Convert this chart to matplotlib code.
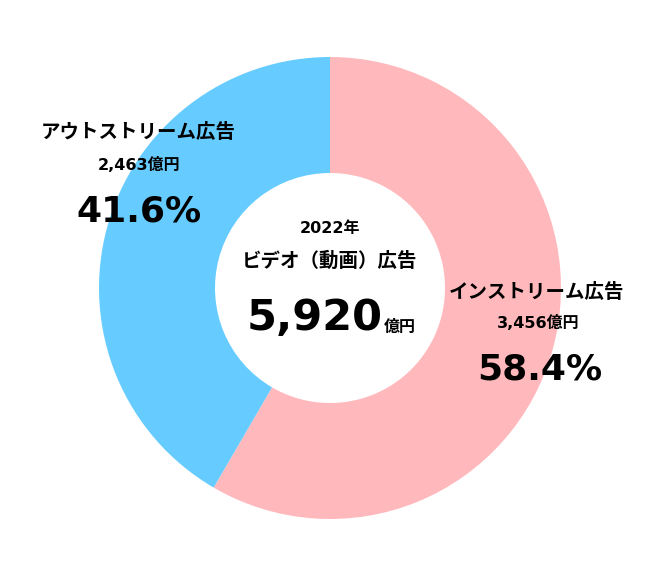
import matplotlib.pyplot as plt

plt.rcParams['font.family'] = ['DejaVu Sans', 'Noto Sans CJK JP']

# データ
labels = ['インストリーム広告', 'アウトストリーム広告']
amounts = [3456, 2463]  # 億円
shares = [58.4, 41.6]   # %
colors = ['#FFB9BD', '#66CCFF']
year = '2022年'
total_title = 'ビデオ（動画）広告'
total = '5,920'

W, H = 661, 575
fig = plt.figure(figsize=[W / 100, H / 100], dpi=100)
ax = fig.add_axes([0, 0, 1, 1])
ax.set_xlim(0, W)
ax.set_ylim(0, H)
ax.set_aspect('equal')
ax.axis('off')

cx, cy = 330, H - 288
ax.pie(shares, colors=colors, startangle=90, counterclock=False,
       center=(cx, cy), radius=231,
       wedgeprops=dict(width=116, edgecolor='none'))
ax.set_xlim(0, W)
ax.set_ylim(0, H)

def t(x, y, s, size, ha='center'):
    ax.text(x, H - y, s, fontsize=size, fontweight='bold', ha=ha, va='center')

# 中央
t(cx, 228, year, 11.5)
t(cx, 261, total_title, 14)
t(315, 318, total, 31)
t(384, 327, '億円', 11.5, ha='left')

# アウトストリーム
t(138, 132, labels[1], 14)
t(139, 165, '{:,}億円'.format(amounts[1]), 11.5)
t(139, 211, '{:.1f}%'.format(shares[1]), 26)

# インストリーム
t(537, 292, labels[0], 14)
t(538, 323, '{:,}億円'.format(amounts[0]), 11.5)
t(540, 370, '{:.1f}%'.format(shares[0]), 26)

fig.savefig('out.png', dpi=100)
